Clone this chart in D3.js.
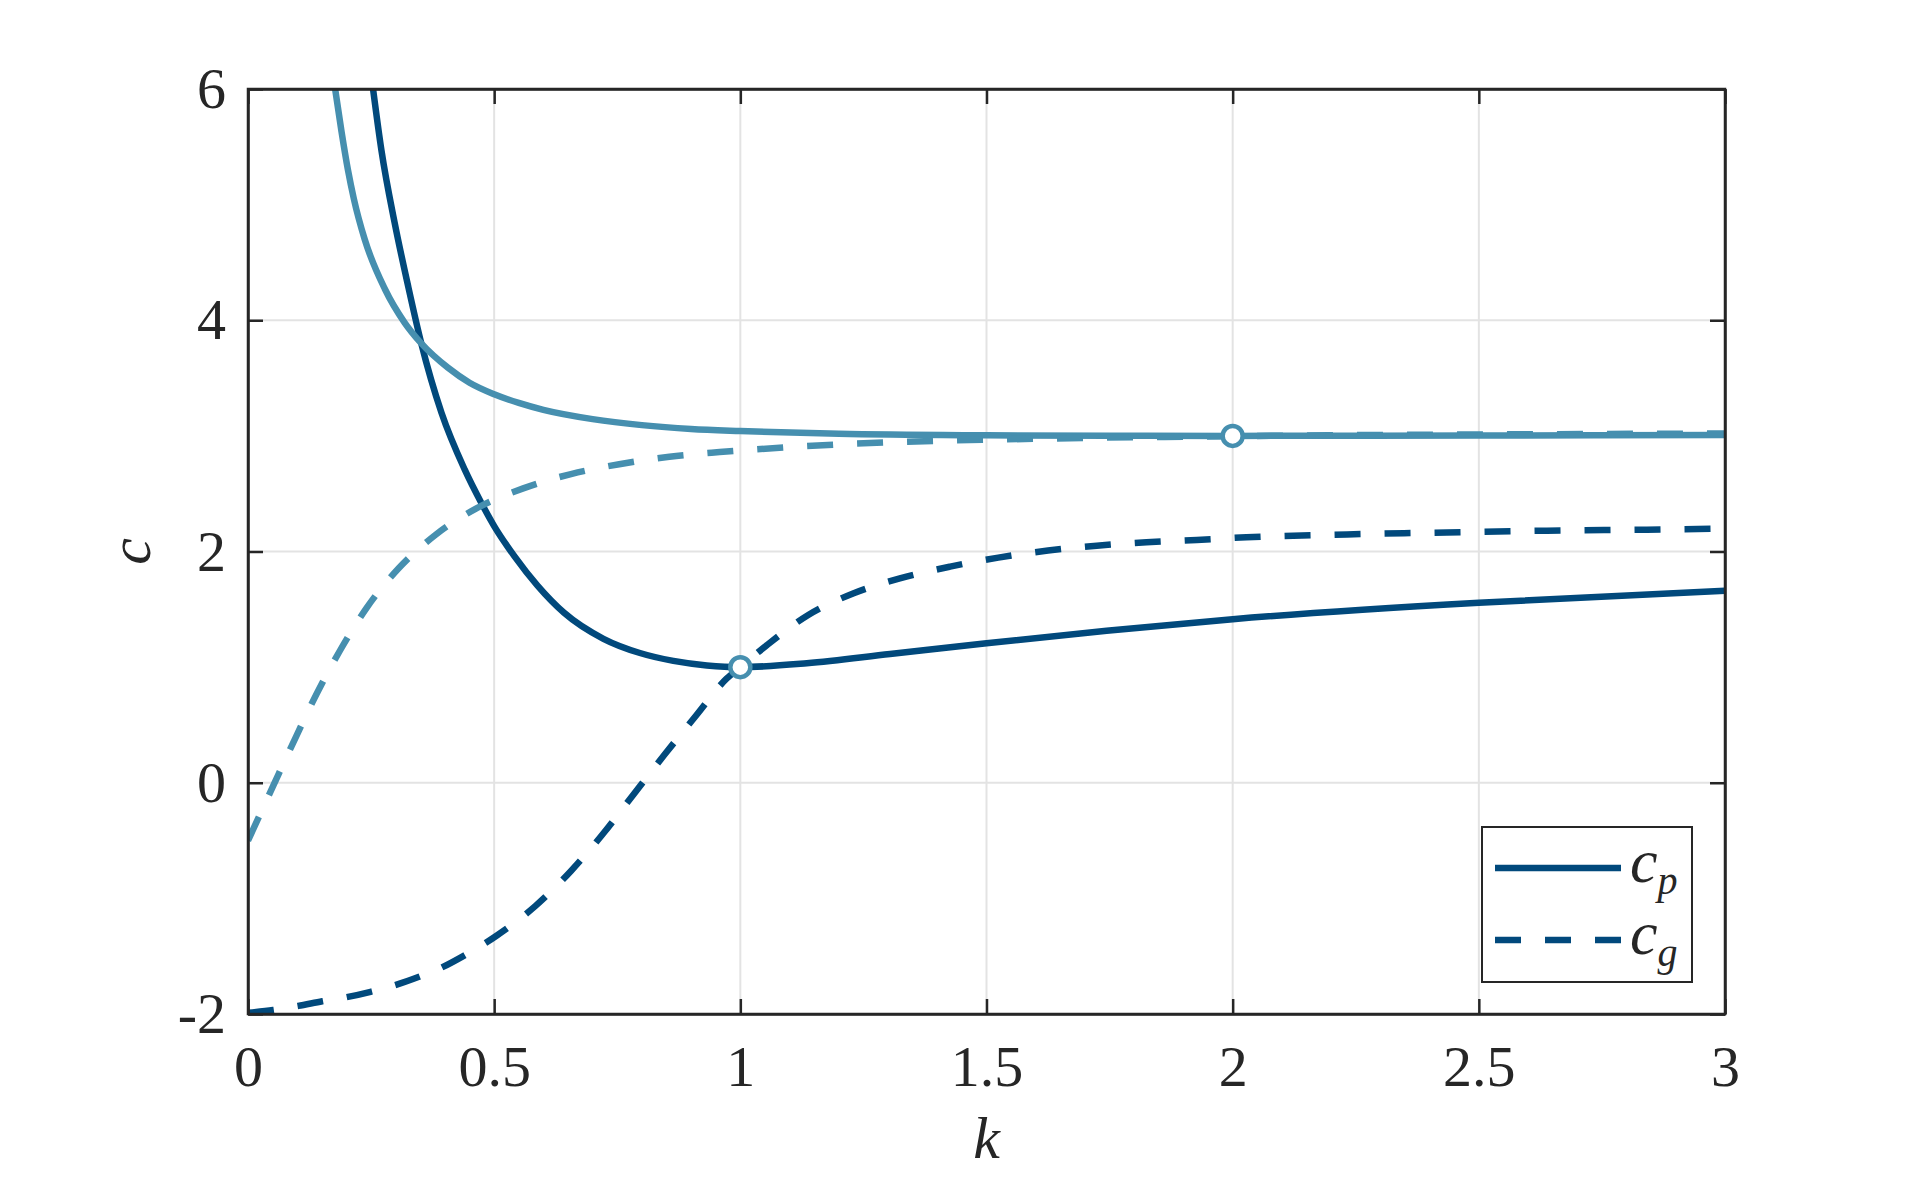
<!DOCTYPE html>
<html>
<head>
<meta charset="utf-8">
<script src="https://cdn.jsdelivr.net/npm/d3@7"></script>
<style>
  html, body { margin: 0; padding: 0; background: #ffffff; }
  svg { display: block; }
  text { font-family: "Liberation Serif", "DejaVu Serif", serif; fill: #262626; }
</style>
</head>
<body>
<svg id="chart" width="1907" height="1179"></svg>
<script>
// ---------- data ----------
const xTicks = [0, 0.5, 1, 1.5, 2, 2.5, 3];
const xTickLabels = ["0", "0.5", "1", "1.5", "2", "2.5", "3"];
const yTicks = [-2, 0, 2, 4, 6];
const yTickLabels = ["-2", "0", "2", "4", "6"];

// dark blue series: phase speed c_p
const kCpDark = [0.254, 0.271, 0.298, 0.325, 0.352, 0.393, 0.440, 0.474, 0.500, 0.541, 0.588, 0.642, 0.722, 0.796, 0.864, 0.932, 1.000, 1.135, 1.304, 1.500, 1.744, 2.000, 2.500, 3.000];
const cCpDark = [6.00, 5.47, 4.84, 4.30, 3.80, 3.20, 2.71, 2.42, 2.22, 1.96, 1.705, 1.47, 1.245, 1.122, 1.054, 1.015, 1.000, 1.033, 1.113, 1.206, 1.315, 1.415, 1.557, 1.661];

// dark blue series: group speed c_g
const kCgDark = [0.000, 0.051, 0.102, 0.151, 0.200, 0.249, 0.299, 0.346, 0.395, 0.439, 0.504, 0.584, 0.656, 0.722, 0.785, 0.847, 0.911, 0.972, 1.000, 1.054, 1.138, 1.229, 1.324, 1.426, 1.524, 1.625, 1.724, 1.825, 1.927, 2.028, 2.232, 2.435, 2.638, 2.841, 3.000];
const cCgDark = [-1.99, -1.965, -1.93, -1.89, -1.855, -1.808, -1.75, -1.68, -1.595, -1.495, -1.325, -1.065, -0.763, -0.437, -0.09, 0.248, 0.586, 0.90, 1.00, 1.19, 1.451, 1.637, 1.768, 1.869, 1.947, 2.008, 2.05, 2.08, 2.10, 2.123, 2.148, 2.165, 2.18, 2.189, 2.198];

// light blue series: phase speed c_p
const kCpLight = [0.177, 0.190, 0.203, 0.215, 0.237, 0.278, 0.318, 0.352, 0.406, 0.450, 0.500, 0.550, 0.600, 0.700, 0.800, 0.900, 1.000, 1.200, 1.500, 1.750, 2.000, 2.500, 3.000];
const cCpLight = [6.00, 5.63, 5.30, 5.05, 4.70, 4.27, 3.98, 3.80, 3.59, 3.46, 3.36, 3.285, 3.225, 3.145, 3.093, 3.06, 3.042, 3.018, 3.005, 3.001, 3.000, 3.003, 3.008];

// light blue series: group speed c_g
const kCgLight = [0.000, 0.053, 0.096, 0.140, 0.1875, 0.2417, 0.306, 0.3805, 0.464, 0.559, 0.656, 0.754, 0.856, 0.958, 1.033, 1.135, 1.338, 1.541, 1.744, 1.947, 2.200, 2.500, 3.000];
const cCgLight = [-0.50, -0.01, 0.384, 0.774, 1.148, 1.517, 1.855, 2.143, 2.373, 2.546, 2.67, 2.755, 2.82, 2.86, 2.884, 2.912, 2.95, 2.97, 2.985, 2.995, 3.005, 3.012, 3.02];

// marked points where c_p = c_g
const markK = [1, 2];
const markC = [1, 3];

const legendLabels = [{base: "c", sub: "p"}, {base: "c", sub: "g"}];

// ---------- layout ----------
const colDark = "#01497c";
const colLight = "#468faf";
const axisCol = "#262626";
const gridCol = "#e3e3e3";
const fontSize = 58;
const lw = 6.5;
const dash = "26,24";

const svg = d3.select("#chart");
const L = 248, R = 1725, T = 89, B = 1014;
const x = d3.scaleLinear().domain([0, 3]).range([L, R]);
const y = d3.scaleLinear().domain([-2, 6]).range([B, T]);

svg.append("rect").attr("x", 0).attr("y", 0).attr("width", 1907).attr("height", 1179).attr("fill", "#fff");

svg.append("defs").append("clipPath").attr("id", "plotclip")
  .append("rect").attr("x", L).attr("y", T).attr("width", R - L).attr("height", B - T);

// grid
const grid = svg.append("g");
grid.selectAll("line.gx").data(xTicks.slice(1, -1)).enter().append("line")
  .attr("x1", d => x(d)).attr("x2", d => x(d)).attr("y1", T).attr("y2", B)
  .attr("stroke", gridCol).attr("stroke-width", 2);
grid.selectAll("line.gy").data(yTicks.slice(1, -1)).enter().append("line")
  .attr("x1", L).attr("x2", R).attr("y1", d => y(d)).attr("y2", d => y(d))
  .attr("stroke", gridCol).attr("stroke-width", 2);

// curves
const toPts = (ks, cs) => ks.map((k, i) => [k, cs[i]]);
const line = d3.line().x(d => x(d[0])).y(d => y(d[1])).curve(d3.curveMonotoneX);
const curves = svg.append("g").attr("clip-path", "url(#plotclip)");
const series = [
  {pts: toPts(kCpDark, cCpDark), col: colDark, dash: null},
  {pts: toPts(kCgDark, cCgDark), col: colDark, dash: dash},
  {pts: toPts(kCpLight, cCpLight), col: colLight, dash: null},
  {pts: toPts(kCgLight, cCgLight), col: colLight, dash: dash}
];
series.forEach(s => {
  curves.append("path").datum(s.pts).attr("d", line)
    .attr("fill", "none").attr("stroke", s.col).attr("stroke-width", lw)
    .attr("stroke-dasharray", s.dash).attr("stroke-linejoin", "round");
});

// markers
svg.append("g").selectAll("circle").data(markK.map((k, i) => [k, markC[i]])).enter().append("circle")
  .attr("cx", d => x(d[0])).attr("cy", d => y(d[1])).attr("r", 10)
  .attr("fill", "#fff").attr("stroke", colLight).attr("stroke-width", 4.5);

// axes
const fmtX = (d) => xTickLabels[xTicks.indexOf(d)];
const fmtY = (d) => yTickLabels[yTicks.indexOf(d)];
const gB = svg.append("g").attr("transform", `translate(0,${B})`)
  .call(d3.axisBottom(x).tickValues(xTicks).tickFormat(fmtX).tickSizeInner(-15).tickSizeOuter(0).tickPadding(31));
const gT = svg.append("g").attr("transform", `translate(0,${T})`)
  .call(d3.axisTop(x).tickValues(xTicks).tickFormat("").tickSizeInner(-15).tickSizeOuter(0));
const gL = svg.append("g").attr("transform", `translate(${L},0)`)
  .call(d3.axisLeft(y).tickValues(yTicks).tickFormat(fmtY).tickSizeInner(-15).tickSizeOuter(0).tickPadding(22));
const gR = svg.append("g").attr("transform", `translate(${R},0)`)
  .call(d3.axisRight(y).tickValues(yTicks).tickFormat("").tickSizeInner(-15).tickSizeOuter(0));
[gB, gT, gL, gR].forEach(g => {
  g.select(".domain").attr("stroke", axisCol).attr("stroke-width", 2.5);
  g.selectAll(".tick line").attr("stroke", axisCol).attr("stroke-width", 2.5);
  g.selectAll(".tick text").attr("font-family", "Liberation Serif").attr("font-size", fontSize).attr("fill", axisCol);
});
svg.append("rect").attr("x", L).attr("y", T).attr("width", R - L).attr("height", B - T)
  .attr("fill", "none").attr("stroke", axisCol).attr("stroke-width", 2.5);

// axis labels
svg.append("text").attr("x", (L + R) / 2).attr("y", 1158).attr("text-anchor", "middle")
  .attr("font-size", fontSize + 2).attr("font-style", "italic").text("k");
svg.append("text").attr("transform", `translate(150,${(T + B) / 2}) rotate(-90)`).attr("text-anchor", "middle")
  .attr("font-size", fontSize + 2).attr("font-style", "italic").text("c");

// legend
const lg = svg.append("g");
lg.append("rect").attr("x", 1482).attr("y", 827).attr("width", 210).attr("height", 155)
  .attr("fill", "#fff").attr("stroke", axisCol).attr("stroke-width", 2);
const legY = [868, 940];
legendLabels.forEach((lab, i) => {
  lg.append("line").attr("x1", 1495).attr("x2", 1621).attr("y1", legY[i]).attr("y2", legY[i])
    .attr("stroke", colDark).attr("stroke-width", lw).attr("stroke-dasharray", i === 1 ? dash : null);
  const t = lg.append("text").attr("x", 1630).attr("y", legY[i] + 14).attr("font-size", fontSize + 4).attr("font-style", "italic");
  t.append("tspan").text(lab.base);
  t.append("tspan").attr("dy", 12).attr("font-size", 40).text(lab.sub);
});
</script>
</body>
</html>
